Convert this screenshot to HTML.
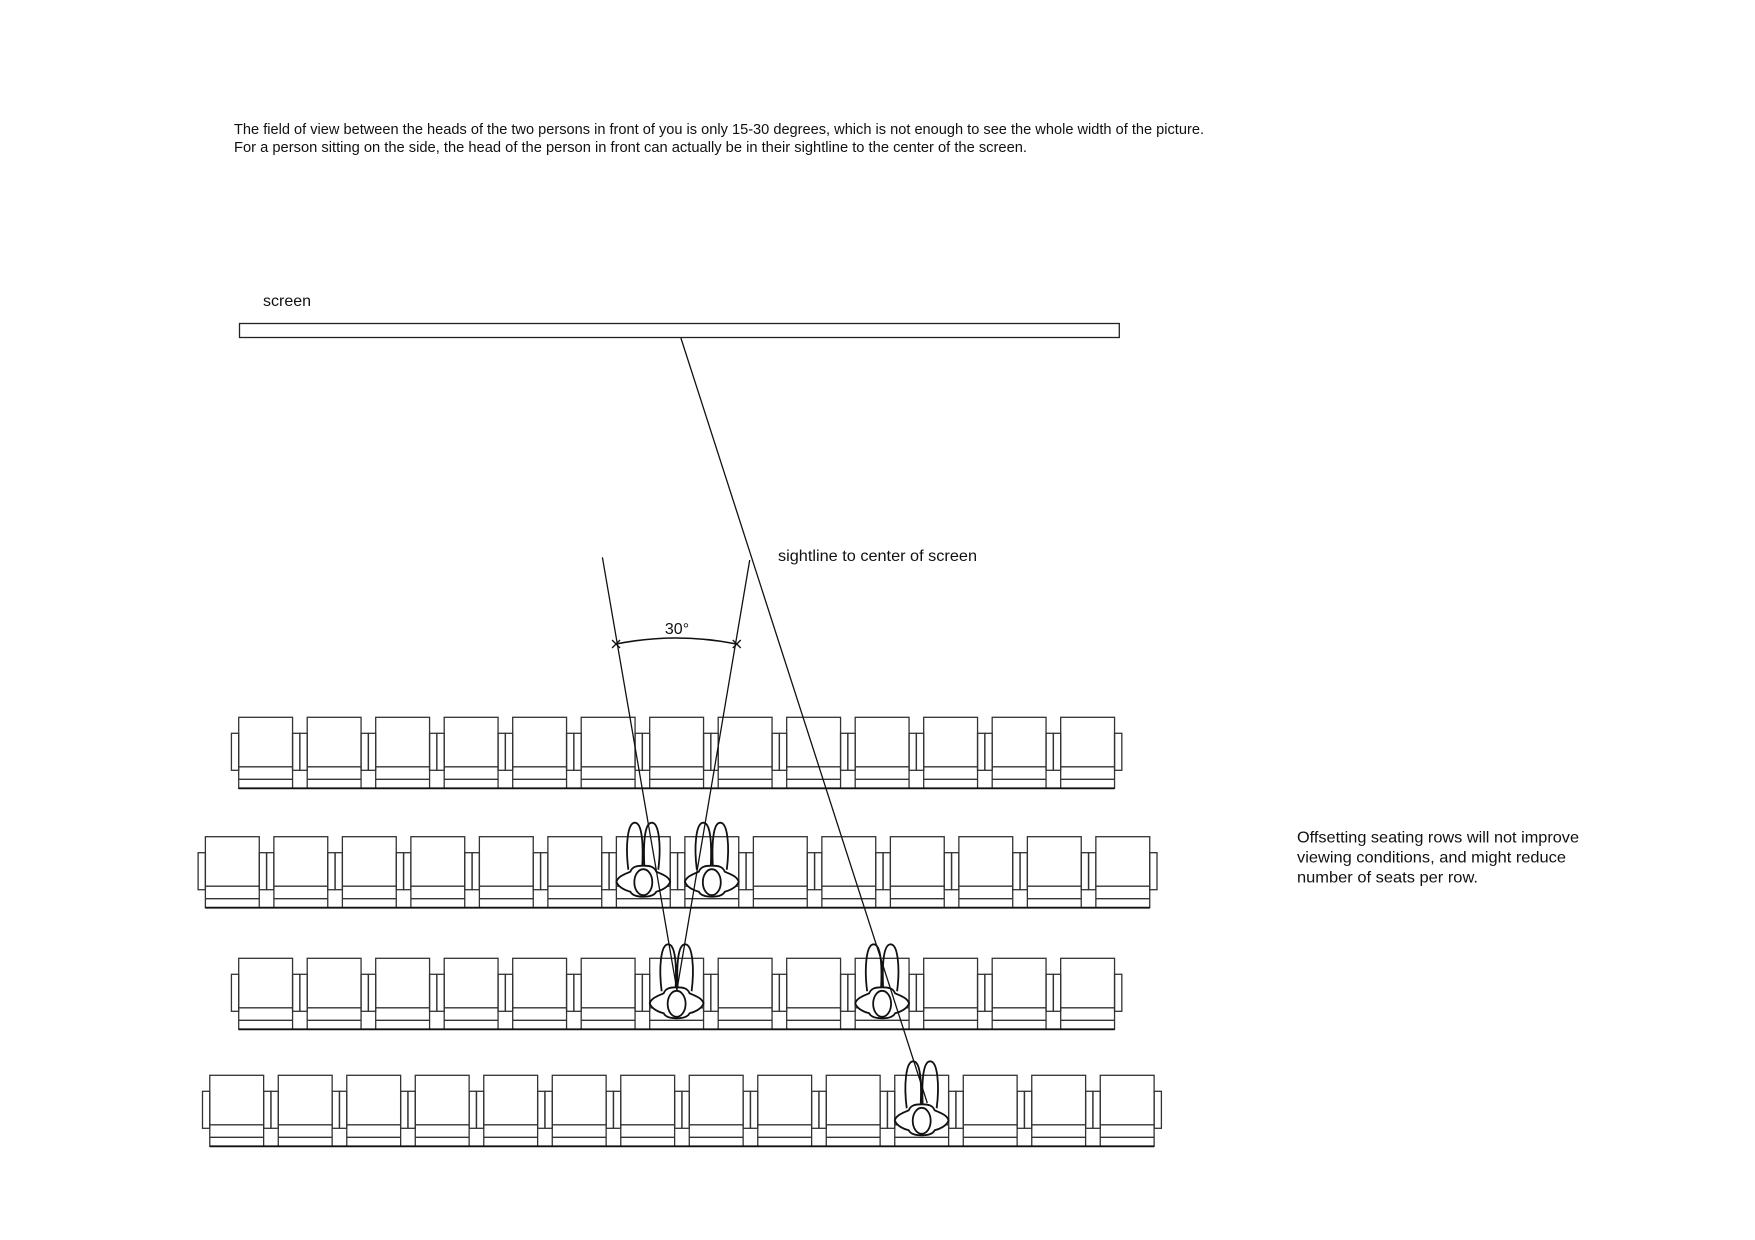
<!DOCTYPE html>
<html><head><meta charset="utf-8"><style>
html,body{margin:0;padding:0;background:#fff;}
svg{display:block;}
text{font-family:"Liberation Sans",Arial,sans-serif;fill:#111;}
</style></head><body>
<svg width="1755" height="1240" viewBox="0 0 1755 1240" xmlns="http://www.w3.org/2000/svg">
<defs>
<g id="c" fill="none" stroke="#333" stroke-width="1.3">
<rect x="0" y="0" width="54" height="71"/>
<line x1="0" y1="49.5" x2="54" y2="49.5"/>
<line x1="0" y1="62" x2="54" y2="62"/>
<rect x="-7.3" y="16" width="7.3" height="37"/>
<rect x="54" y="16" width="7.3" height="37"/>
</g>
<g id="p" stroke="#111" stroke-width="1.8">
<path d="M12,33 C9,10 11,-14 18.5,-14 C26,-14 27,8 26,29 M28,29 C27,8 28,-14 35.5,-14 C43,-14 45,10 42,33" fill="none"/>
<path d="M0,45 C2,39 10,37 14,35 C16,30 20,29 27,29 C34,29 38,30 40,35 C44,37 52,39 54,45 C52,51 44,54 40,55 C38,59 33,60 27,60 C21,60 16,59 14,55 C10,54 2,51 0,45 Z" fill="#fff"/>
<ellipse cx="27" cy="45.5" rx="9" ry="13" fill="none"/>
</g>
</defs>

<text x="234" y="134" font-size="14.5" textLength="970" lengthAdjust="spacingAndGlyphs">The field of view between the heads of the two persons in front of you is only 15-30 degrees, which is not enough to see the whole width of the picture.</text>
<text x="234" y="152" font-size="14.5" textLength="793" lengthAdjust="spacingAndGlyphs">For a person sitting on the side, the head of the person in front can actually be in their sightline to the center of the screen.</text>

<text x="263" y="306" font-size="16">screen</text>
<text x="778" y="561" font-size="16" textLength="199" lengthAdjust="spacingAndGlyphs">sightline to center of screen</text>

<text x="1297" y="842.5" font-size="16" textLength="282" lengthAdjust="spacingAndGlyphs">Offsetting seating rows will not improve</text>
<text x="1297" y="862.5" font-size="16" textLength="269" lengthAdjust="spacingAndGlyphs">viewing conditions, and might reduce</text>
<text x="1297" y="882.5" font-size="16" textLength="181" lengthAdjust="spacingAndGlyphs">number of seats per row.</text>

<g transform="translate(240,0) scale(0.9975,1) translate(-240,0)">
<rect x="239.5" y="323.5" width="882" height="14" fill="none" stroke="#222" stroke-width="1.3"/>
<use href="#c" x="238.7" y="717.3"/><use href="#c" x="307.37" y="717.3"/><use href="#c" x="376.04" y="717.3"/><use href="#c" x="444.71" y="717.3"/><use href="#c" x="513.38" y="717.3"/><use href="#c" x="582.05" y="717.3"/><use href="#c" x="650.72" y="717.3"/><use href="#c" x="719.39" y="717.3"/><use href="#c" x="788.06" y="717.3"/><use href="#c" x="856.73" y="717.3"/><use href="#c" x="925.4" y="717.3"/><use href="#c" x="994.07" y="717.3"/><use href="#c" x="1062.74" y="717.3"/>
<line x1="238.7" y1="788.3" x2="1116.7" y2="788.3" stroke="#111" stroke-width="1.8"/>
<use href="#c" x="205.3" y="836.7"/><use href="#c" x="273.97" y="836.7"/><use href="#c" x="342.64" y="836.7"/><use href="#c" x="411.31" y="836.7"/><use href="#c" x="479.98" y="836.7"/><use href="#c" x="548.65" y="836.7"/><use href="#c" x="617.32" y="836.7"/><use href="#c" x="685.99" y="836.7"/><use href="#c" x="754.66" y="836.7"/><use href="#c" x="823.33" y="836.7"/><use href="#c" x="892" y="836.7"/><use href="#c" x="960.67" y="836.7"/><use href="#c" x="1029.34" y="836.7"/><use href="#c" x="1098.01" y="836.7"/>
<line x1="205.3" y1="907.7" x2="1152" y2="907.7" stroke="#111" stroke-width="1.8"/>
<use href="#c" x="238.7" y="958.3"/><use href="#c" x="307.37" y="958.3"/><use href="#c" x="376.04" y="958.3"/><use href="#c" x="444.71" y="958.3"/><use href="#c" x="513.38" y="958.3"/><use href="#c" x="582.05" y="958.3"/><use href="#c" x="650.72" y="958.3"/><use href="#c" x="719.39" y="958.3"/><use href="#c" x="788.06" y="958.3"/><use href="#c" x="856.73" y="958.3"/><use href="#c" x="925.4" y="958.3"/><use href="#c" x="994.07" y="958.3"/><use href="#c" x="1062.74" y="958.3"/>
<line x1="238.7" y1="1029.3" x2="1116.7" y2="1029.3" stroke="#111" stroke-width="1.8"/>
<use href="#c" x="209.7" y="1075.3"/><use href="#c" x="278.37" y="1075.3"/><use href="#c" x="347.04" y="1075.3"/><use href="#c" x="415.71" y="1075.3"/><use href="#c" x="484.38" y="1075.3"/><use href="#c" x="553.05" y="1075.3"/><use href="#c" x="621.72" y="1075.3"/><use href="#c" x="690.39" y="1075.3"/><use href="#c" x="759.06" y="1075.3"/><use href="#c" x="827.73" y="1075.3"/><use href="#c" x="896.4" y="1075.3"/><use href="#c" x="965.07" y="1075.3"/><use href="#c" x="1033.74" y="1075.3"/><use href="#c" x="1102.41" y="1075.3"/>
<line x1="209.7" y1="1146.3" x2="1156.4" y2="1146.3" stroke="#111" stroke-width="1.8"/>

<use href="#p" x="617.32" y="836.7"/>
<use href="#p" x="685.99" y="836.7"/>
<use href="#p" x="650.72" y="958.3"/>
<use href="#p" x="856.73" y="958.3"/>
<use href="#p" x="896.4" y="1075.3"/>

<g stroke="#111" stroke-width="1.3" fill="none">
<line x1="682" y1="338" x2="929" y2="1103"/>
<line x1="603.3" y1="557.3" x2="678" y2="990"/>
<line x1="751" y1="560" x2="678" y2="990"/>
<path d="M617,644 Q677,632 738,644" stroke-width="1.6"/>
<line x1="613" y1="648" x2="621" y2="640"/>
<line x1="613" y1="640" x2="621" y2="648"/>
<line x1="734" y1="648" x2="742" y2="640"/>
<line x1="734" y1="640" x2="742" y2="648"/>
</g>
</g>
<text x="677" y="634" font-size="16" text-anchor="middle">30°</text>
</svg>
</body></html>
